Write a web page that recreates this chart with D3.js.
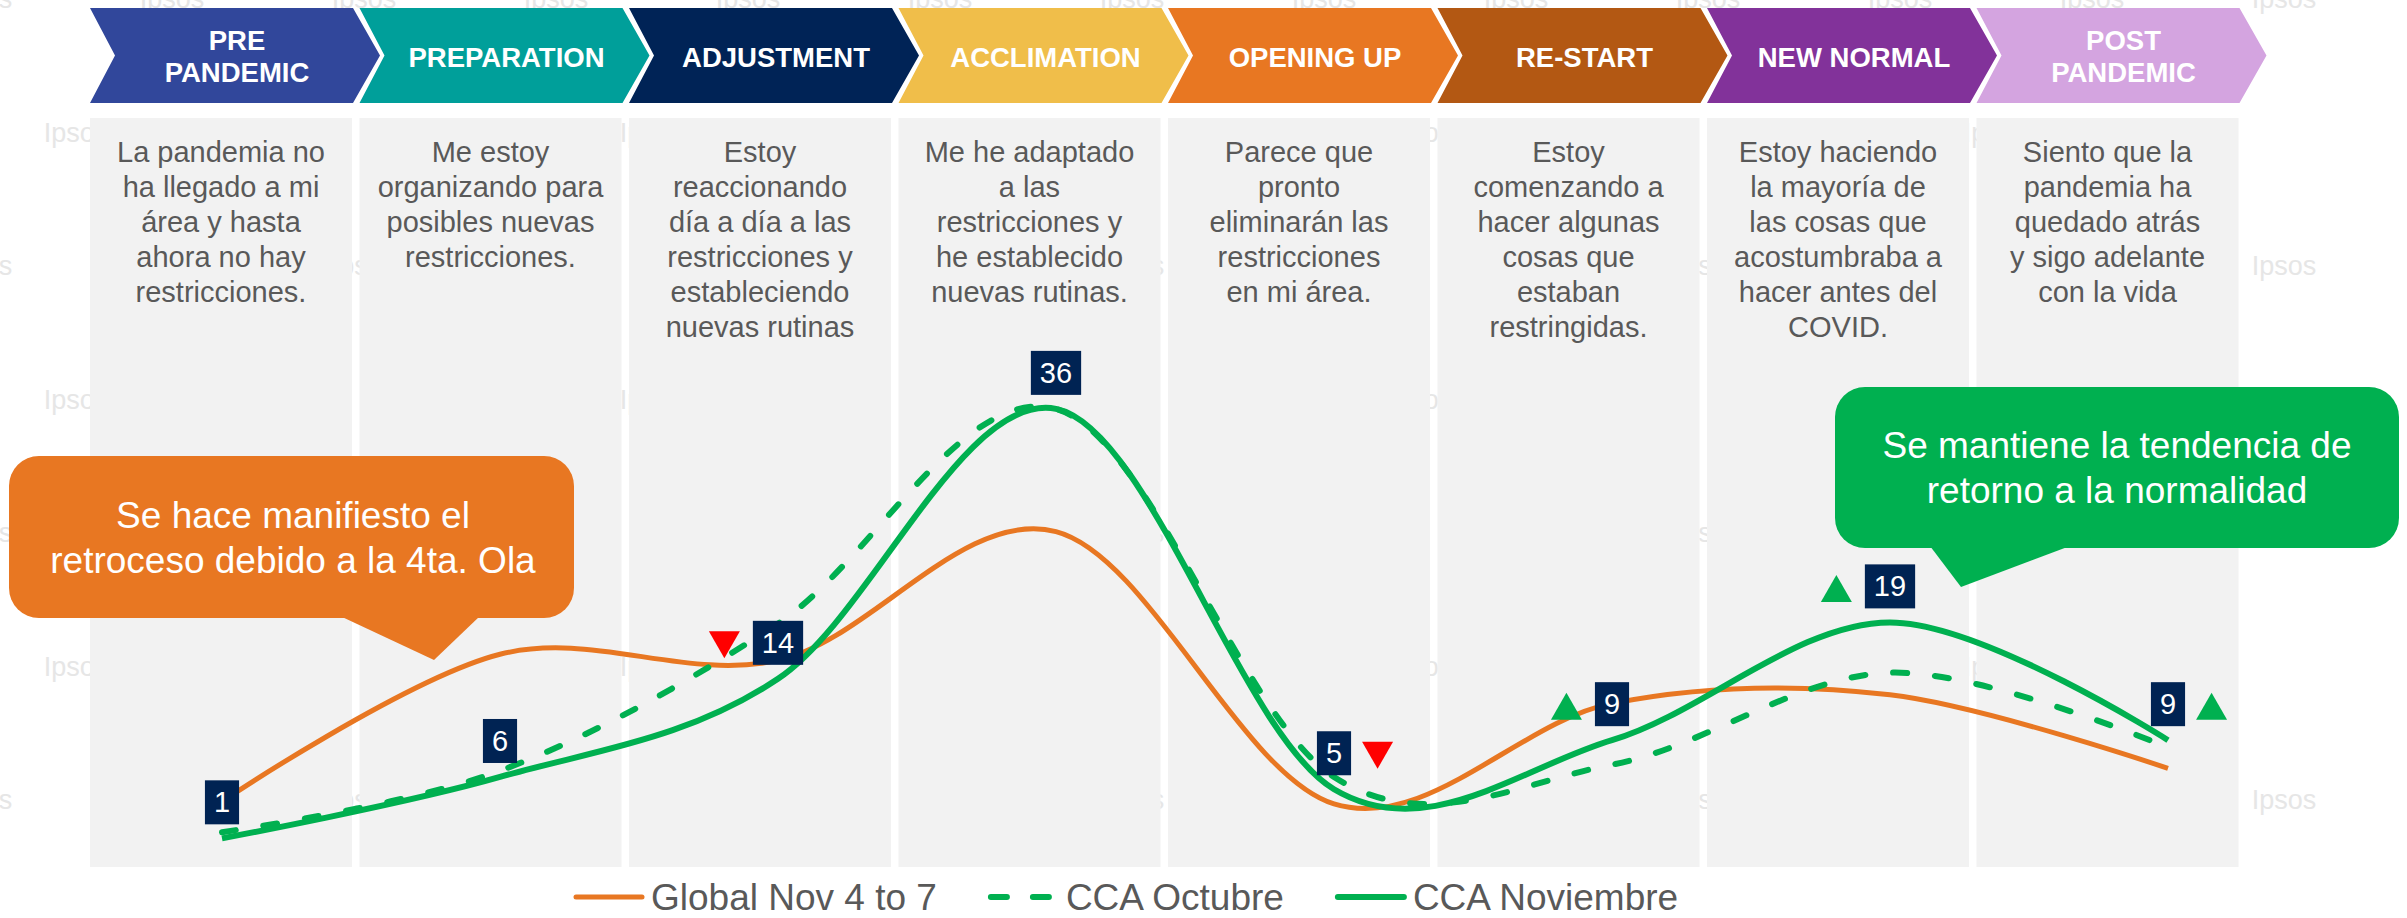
<!DOCTYPE html>
<html>
<head>
<meta charset="utf-8">
<script src="https://cdn.jsdelivr.net/npm/d3@7"></script>
<style>
body { margin: 0; background: white; }
text { font-family: "Liberation Sans", Arial, sans-serif; }
</style>
</head>
<body>
<div id="chart-container"></div>
<script>
// chart data

stage_lines = [["PRE", "PANDEMIC"], ["PREPARATION"], ["ADJUSTMENT"], ["ACCLIMATION"],
               ["OPENING UP"], ["RE-START"], ["NEW NORMAL"], ["POST", "PANDEMIC"]];

descriptions = [
    ["La pandemia no", "ha llegado a mi", "área y hasta", "ahora no hay", "restricciones."],
    ["Me estoy", "organizando para", "posibles nuevas", "restricciones."],
    ["Estoy", "reaccionando", "día a día a las", "restricciones y", "estableciendo", "nuevas rutinas"],
    ["Me he adaptado", "a las", "restricciones y", "he establecido", "nuevas rutinas."],
    ["Parece que", "pronto", "eliminarán las", "restricciones", "en mi área."],
    ["Estoy", "comenzando a", "hacer algunas", "cosas que", "estaban", "restringidas."],
    ["Estoy haciendo", "la mayoría de", "las cosas que", "acostumbraba a", "hacer antes del", "COVID."],
    ["Siento que la", "pandemia ha", "quedado atrás", "y sigo adelante", "con la vida"]
];

global_nov = [4, 16, 15.5, 26, 3.8, 12, 12.7, 6.7];
cca_oct = [1.5, 6.5, 18.5, 36, 6, 7, 14.5, 8.4];
cca_nov = [1, 6, 14, 36, 5, 9, 18.6, 9];
nov_labels = ["1", "6", "14", "36", "5", "9", "19", "9"];

// change of November vs October, and on which side of the label the arrow sits
change_vs_oct = ["", "", "down", "", "down", "up", "up", "up"];
arrow_side = ["", "", "left", "", "right", "left", "left", "right"];

series_names = ["Global Nov 4 to 7", "CCA Octubre", "CCA Noviembre"];

callout_left = ["Se hace manifiesto el", "retroceso debido a la 4ta. Ola"];
callout_right = ["Se mantiene la tendencia de", "retorno a la normalidad"];

// styles

stage_colors = ["#31479b", "#009f9a", "#002356", "#f0be4a", "#e87722", "#b35813", "#82329a", "#d4a4e0"];
orange = "#e87722";
green = "#00b050";
navy = "#002353";
grey_text = "#595959";

width = 2407;
height = 918;

svg = d3.select("#chart-container")
    .append("svg")
    .attr("width", width)
    .attr("height", height)
    .style("background", "white");

// scales

band = d3.scaleBand().domain(d3.range(8)).range([90, 2238.5]).paddingInner(7.5 / 269.5);
x = d3.scalePoint().domain(d3.range(8)).range([222, 2168]);
y = d3.scaleLinear().domain([0, 40]).range([850.6, 359.8]);

// watermark

var wm = svg.append("g").attr("id", "watermark");
for (var r = 0; r < 8; r++) {
    for (var c = -1; c < 13; c++) {
	var wx = (r % 2 ? 76 : -20) + 192 * c;
	if (wx > 2300) continue;
	wm.append("text")
	    .attr("x", wx)
	    .attr("y", 8 + 133.5 * r)
	    .attr("text-anchor", "middle")
	    .style("font-size", "27px")
	    .style("fill", "#e6e6e6")
	    .text("Ipsos");
    }
}

// panels and descriptions

svg.append("g").selectAll("rect")
    .data(d3.range(8))
    .join("rect")
    .attr("x", i => band(i))
    .attr("y", 118)
    .attr("width", band.bandwidth())
    .attr("height", 749)
    .style("fill", "#f2f2f2");

descriptions.forEach((lines, i) => {
    svg.append("text")
	.attr("text-anchor", "middle")
	.style("font-size", "29px")
	.style("fill", grey_text)
	.selectAll("tspan")
	.data(lines)
	.join("tspan")
	.attr("x", band(i) + band.bandwidth() / 2)
	.attr("y", (d, k) => 162 + 35 * k)
	.text(d => d);
});

// chevrons

function chevron(x0) {
    return `M${x0},8H${x0 + 263}L${x0 + 290},55.5L${x0 + 263},103H${x0}L${x0 + 25},55.5Z`;
}

var chev = svg.append("g").attr("id", "chevrons");
stage_lines.forEach((lines, i) => {
    chev.append("path")
	.attr("d", chevron(band(i)))
	.style("fill", stage_colors[i]);
    var base = lines.length == 1 ? [67] : [50, 82];
    chev.append("text")
	.attr("text-anchor", "middle")
	.style("font-size", "27.5px")
	.style("font-weight", "bold")
	.style("fill", "white")
	.selectAll("tspan")
	.data(lines)
	.join("tspan")
	.attr("x", band(i) + 147)
	.attr("y", (d, k) => base[k])
	.text(d => d);
});

// callouts

function callout(box, pointer, lines, color, cx, baselines) {
    var g = svg.append("g");
    g.append("rect")
	.attr("x", box[0]).attr("y", box[1])
	.attr("width", box[2]).attr("height", box[3])
	.attr("rx", 30)
	.style("fill", color);
    g.append("path")
	.attr("d", "M" + pointer.join("L") + "Z")
	.style("fill", color);
    g.append("text")
	.attr("text-anchor", "middle")
	.style("font-size", "37px")
	.style("fill", "white")
	.selectAll("tspan")
	.data(lines)
	.join("tspan")
	.attr("x", cx)
	.attr("y", (d, k) => baselines[k])
	.text(d => d);
}

callout([9, 456, 565, 162], [[340, 616], [480, 616], [434, 660]], callout_left, orange, 293, [528, 573]);
callout([1835, 387, 564, 161], [[1930, 546], [2070, 546], [1961, 587]], callout_right, green, 2117, [458, 503]);

// lines

line = d3.line()
    .x((d, i) => x(i))
    .y(d => y(d))
    .curve(d3.curveCardinal.tension(0));

svg.append("path")
    .attr("d", line(global_nov))
    .style("fill", "none")
    .style("stroke", orange)
    .style("stroke-width", 5);

svg.append("path")
    .attr("d", line(cca_oct))
    .style("fill", "none")
    .style("stroke", green)
    .style("stroke-width", 6)
    .style("stroke-linecap", "round")
    .style("stroke-dasharray", "14,28");

svg.append("path")
    .attr("d", line(cca_nov))
    .style("fill", "none")
    .style("stroke", green)
    .style("stroke-width", 6);

// value labels with change arrows

var labels = svg.append("g").attr("id", "labels");
cca_nov.forEach((v, i) => {
    var g = labels.append("g");
    var bottom = y(v) - 14;
    var t = g.append("text")
	.attr("x", x(i))
	.attr("y", bottom - 12)
	.attr("text-anchor", "middle")
	.style("font-size", "29px")
	.style("fill", "white")
	.text(nov_labels[i]);
    var w = t.node().getComputedTextLength() + 18;
    g.insert("rect", "text")
	.attr("x", x(i) - w / 2)
	.attr("y", bottom - 44)
	.attr("width", w)
	.attr("height", 44)
	.style("fill", navy);

    if (change_vs_oct[i]) {
	var cy = bottom - 22 + 2;
	var cx = arrow_side[i] == "left" ? x(i) - w / 2 - 13 - 15.5 : x(i) + w / 2 + 11 + 15.5;
	var s = change_vs_oct[i] == "up" ? 1 : -1;
	g.append("path")
	    .attr("d", `M${cx - 15.5},${cy + 13.5 * s}L${cx + 15.5},${cy + 13.5 * s}L${cx},${cy - 13.5 * s}Z`)
	    .style("fill", change_vs_oct[i] == "up" ? green : "#ff0000");
    }
});

// legend

var legend_styles = [
    {color: orange, width: 5, dash: null},
    {color: green, width: 6, dash: "16,26"},
    {color: green, width: 6, dash: null}
];

var lx = 573;
var legend = svg.append("g").attr("id", "legend");
series_names.forEach((name, i) => {
    var st = legend_styles[i];
    legend.append("line")
	.attr("x1", lx + 3).attr("x2", lx + 69)
	.attr("y1", 897).attr("y2", 897)
	.style("stroke", st.color)
	.style("stroke-width", st.width)
	.style("stroke-linecap", "round")
	.style("stroke-dasharray", st.dash);
    var t = legend.append("text")
	.attr("x", lx + 78)
	.attr("y", 910)
	.style("font-size", "37px")
	.style("fill", grey_text)
	.text(name);
    lx = lx + 78 + t.node().getComputedTextLength() + 51;
});
</script>
</body>
</html>
